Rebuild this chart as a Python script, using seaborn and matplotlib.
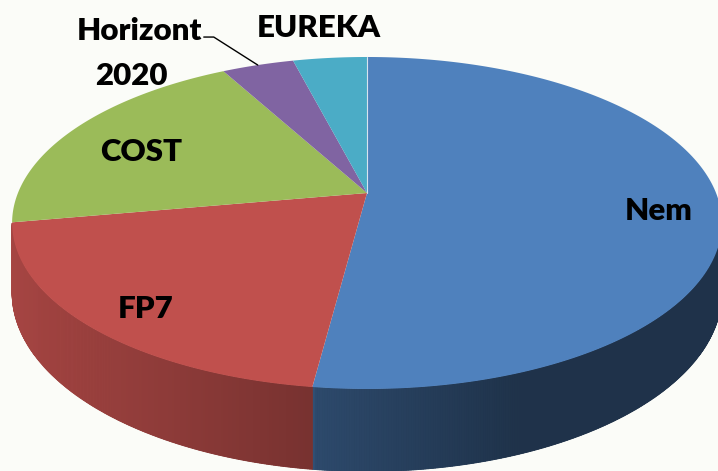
import numpy as np
import matplotlib
matplotlib.use("Agg")
import matplotlib.pyplot as plt
import seaborn as sns
from matplotlib.colors import to_rgb

# data (share of the pie, clockwise from 12 o'clock)
labels = ["Nem", "FP7", "COST", "Horizont\n2020", "EUREKA"]
values = [52.0, 20.1, 19.9, 3.9, 4.0]
colors = ["#4F81BD", "#C0504D", "#9BBB59", "#8064A2", "#4BACC6"]

# where each label sits, as a fraction of the pie radius
label_r = [0.83, 0.82, 0.76, 1.0, 1.36]

sns.set_style("white")
plt.rcParams["font.family"] = ["Lato", "DejaVu Sans"]

# simple perspective model of the tilted disc (pixels)
cx, cy = 367, 193
d = 5.535
K = 1932
Kc = 888.8
KH = 374


def proj(theta, r=1.0, h=0.0):
    t = np.radians(theta)
    X = r * np.sin(t)
    Z = r * np.cos(t)
    D = d + Z
    return cx + K * X / D, cy - Kc * Z / D + KH * h / D


def shade(col, x):
    # side wall darkens from left to right, a bit faster on the right half
    if x < cx - 52:
        f = 0.86 - 0.24 * (x - 12) / 303
    else:
        f = max(0.39, 0.57 - 0.18 * (x - 315) / 205)
    return tuple(np.clip(np.array(to_rgb(col)) * f, 0, 1))


fig = plt.figure(figsize=(7.18, 4.71), dpi=100)
fig.patch.set_facecolor("#FBFCF8")
ax = fig.add_axes([0, 0, 1, 1])
ax.set_facecolor("#FBFCF8")
ax.set_xlim(0, 718)
ax.set_ylim(471, 0)
ax.axis("off")

angles = np.concatenate([[0], np.cumsum(values) / np.sum(values) * 360])
th_r = np.degrees(np.arccos(-1 / d))
th_l = 360 - th_r

# side wall (only the front half is visible)
for i, col in enumerate(colors):
    a0, a1 = max(angles[i], th_r), min(angles[i + 1], th_l)
    if a1 <= a0:
        continue
    ts = np.linspace(a0, a1, int((a1 - a0) * 3) + 2)
    # base fill underneath so the strips leave no seams
    tx, ty = proj(ts)
    bx, by = proj(ts[::-1], h=1)
    base = shade(col, np.mean(tx))
    ax.fill(np.concatenate([tx, bx]), np.concatenate([ty, by]),
            color=base, lw=0)
    for t0, t1 in zip(ts[:-1], ts[1:]):
        p = [proj(t0), proj(t1), proj(t1, h=1), proj(t0, h=1)]
        xs, ys = zip(*p)
        c = shade(col, np.mean(xs))
        ax.fill(xs, ys, color=c, ec=c, lw=0.6)

# top face
for i, col in enumerate(colors):
    ts = np.linspace(angles[i], angles[i + 1], 200)
    xs, ys = proj(ts)
    xs = np.concatenate([[cx], xs])
    ys = np.concatenate([[cy], ys])
    ax.fill(xs, ys, color=col, lw=0)

# thin light seam where the last slice meets the first
ax.plot(*zip((cx, cy), proj(0)), color="#D8E4F0", lw=0.8)

# labels
fs = 22.5
for i, lab in enumerate(labels):
    mid = (angles[i] + angles[i + 1]) / 2
    x, y = proj(mid, label_r[i])
    if lab.startswith("Horizont"):
        ex, ey = x - 44, y - 28
        ax.plot([x, ex, ex - 10], [y, ey, ey], color="black", lw=1)
        ax.text(ex - 12, ey - 6, "Horizont", ha="right", va="center",
                fontsize=fs, fontweight="heavy", color="black")
        ax.text(ex - 82, ey + 39, "2020", ha="center", va="center",
                fontsize=fs, fontweight="heavy", color="black")
    else:
        ax.text(x, y + 9, lab, ha="center", va="center",
                fontsize=fs, fontweight="heavy", color="black")

fig.savefig("out.png", dpi=100, facecolor=fig.get_facecolor())
